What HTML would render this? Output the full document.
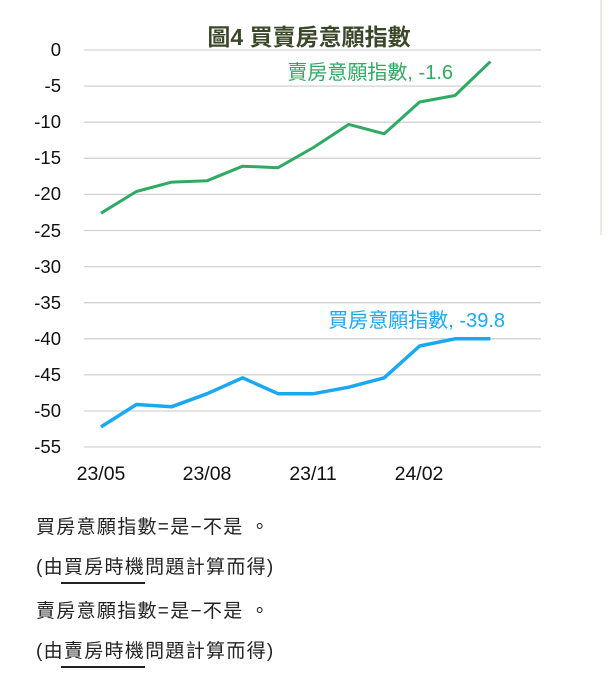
<!DOCTYPE html>
<html><head><meta charset="utf-8"><style>
body{margin:0;background:#fff;width:610px;height:680px;overflow:hidden;font-family:"Liberation Sans","Noto Sans CJK TC",sans-serif;}
.t{position:absolute;left:36px;font-size:19px;letter-spacing:1.3px;color:#222;white-space:nowrap;line-height:22px;}
.u{position:absolute;height:1.5px;background:#222;}
</style></head><body>
<svg width="610" height="680" style="position:absolute;left:0;top:0" font-family="Liberation Sans, Noto Sans CJK TC, sans-serif">
<line x1="601" y1="0" x2="601" y2="235" stroke="#e8e4cf" stroke-width="1.5"/>
<text x="309" y="45" text-anchor="middle" font-size="23" font-weight="bold" fill="#3b4729">圖4  買賣房意願指數</text>
<g stroke="#d2d2d2" stroke-width="1.3">
<line x1="84" x2="541" y1="50" y2="50"/><line x1="84" x2="541" y1="86.1" y2="86.1"/><line x1="84" x2="541" y1="122.2" y2="122.2"/><line x1="84" x2="541" y1="158.3" y2="158.3"/><line x1="84" x2="541" y1="194.4" y2="194.4"/><line x1="84" x2="541" y1="230.5" y2="230.5"/><line x1="84" x2="541" y1="266.6" y2="266.6"/><line x1="84" x2="541" y1="302.7" y2="302.7"/><line x1="84" x2="541" y1="338.8" y2="338.8"/><line x1="84" x2="541" y1="374.9" y2="374.9"/><line x1="84" x2="541" y1="411" y2="411"/><line x1="84" x2="541" y1="447" y2="447"/>
</g>
<g font-size="18.5" fill="#111" text-anchor="end">
<text x="61" y="56">0</text><text x="61" y="92">-5</text><text x="61" y="128">-10</text><text x="61" y="164">-15</text><text x="61" y="200">-20</text><text x="61" y="237">-25</text><text x="61" y="273">-30</text><text x="61" y="309">-35</text><text x="61" y="345">-40</text><text x="61" y="381">-45</text><text x="61" y="417">-50</text><text x="61" y="453">-55</text>
</g>
<g font-size="19.5" fill="#111" text-anchor="middle">
<text x="101" y="480">23/05</text><text x="207" y="480">23/08</text><text x="313" y="480">23/11</text><text x="419" y="480">24/02</text>
</g>
<polyline fill="none" stroke="#2eaa63" stroke-width="3" stroke-linejoin="round" points="101,213.2 136.4,191.5 171.8,182.1 207.2,180.7 242.6,166.2 278,167.7 313.4,147.5 348.8,124.4 384.2,133.8 419.6,102 455,95.5 490.4,61.6"/>
<polyline fill="none" stroke="#1aa8f5" stroke-width="3.5" stroke-linejoin="round" points="101,426.9 136.4,404.5 171.8,406.7 207.2,393.7 242.6,377.8 278,393.7 313.4,393.7 348.8,387.2 384.2,377.8 419.6,346 455,338.8 490.4,338.8"/>
<text x="453" y="79" text-anchor="end" font-size="20" fill="#2eaa63">賣房意願指數, -1.6</text>
<text x="505" y="327" text-anchor="end" font-size="20" fill="#1aa8f5">買房意願指數, -39.8</text>
</svg>
<div class="t" style="top:517px">買房意願指數=是−不是 。</div>
<div class="t" style="top:557px">(由買房時機問題計算而得)</div>
<div class="u" style="left:61px;width:84px;top:582px"></div>
<div class="t" style="top:601px">賣房意願指數=是−不是 。</div>
<div class="t" style="top:641px">(由賣房時機問題計算而得)</div>
<div class="u" style="left:61px;width:84px;top:666px"></div>
</body></html>
